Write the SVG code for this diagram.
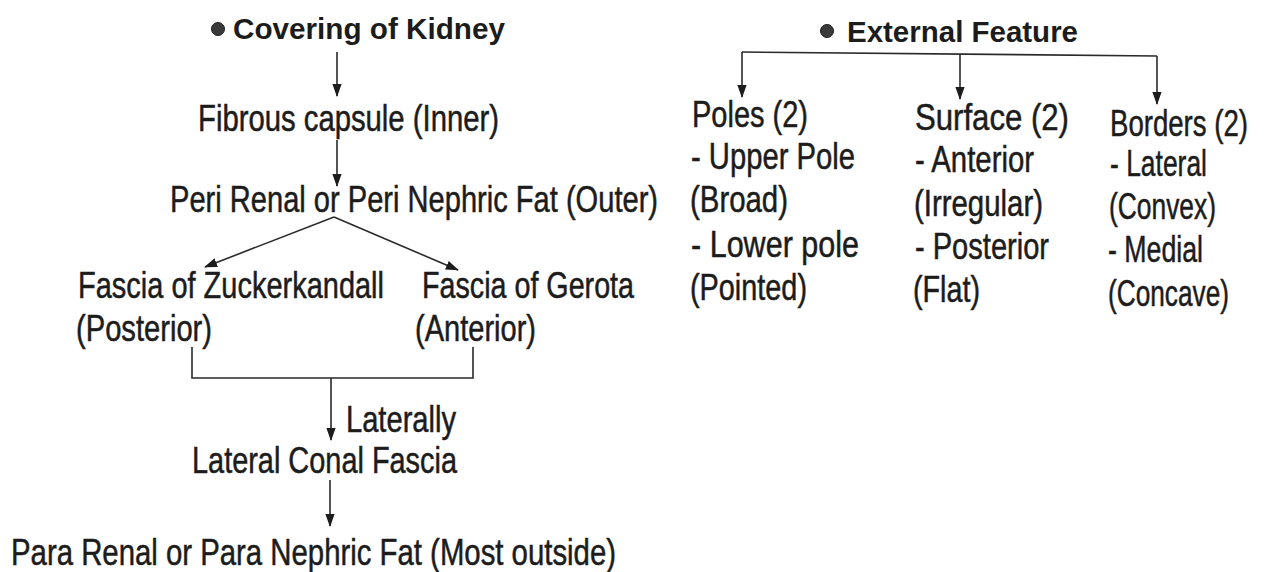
<svg xmlns="http://www.w3.org/2000/svg" width="1264" height="572" viewBox="0 0 1264 572">
<style>
.t{font-family:"Liberation Sans",Arial,sans-serif;font-size:36px;fill:#1c1c1c;stroke:#1c1c1c;stroke-width:0.5}
.h{font-family:"Liberation Sans",Arial,sans-serif;font-size:29px;font-weight:bold;fill:#1c1c1c}
.c{fill:none;stroke:#2a2a2a;stroke-width:1.6}
.a{marker-end:url(#ah)}
.b{fill:#3a3a3a;stroke:#1c1c1c;stroke-width:1}
</style>
<defs>
<marker id="ah" viewBox="0 0 14 10" refX="13" refY="5" markerWidth="13" markerHeight="10" markerUnits="userSpaceOnUse" orient="auto">
<path d="M0,0 L14,5 L0,10 z" fill="#1c1c1c"/>
</marker>
</defs>
<rect width="1264" height="572" fill="#ffffff"/>
<g id="connectors">
<path class="c a" d="M337,52 V96"/>
<path class="c a" d="M337,140 V186"/>
<path class="c a" d="M334,217 L205,267"/>
<path class="c a" d="M334,217 L458,270"/>
<path class="c" d="M192,347 V378 H473 V347"/>
<path class="c a" d="M331,378 V440"/>
<path class="c a" d="M330,480 V526"/>
<path class="c" d="M742,52 L1157,56"/>
<path class="c a" d="M742,52 V97"/>
<path class="c a" d="M960,54 V99"/>
<path class="c a" d="M1157,56 V104"/>
</g>
<g id="covering">
<circle class="b" cx="218" cy="29" r="6.5"/>
<text class="h" x="233" y="39" textLength="272" lengthAdjust="spacingAndGlyphs">Covering of Kidney</text>
</g>
<g id="fibrous"><text class="t" x="198" y="131" textLength="301" lengthAdjust="spacingAndGlyphs">Fibrous capsule (Inner)</text></g>
<g id="perirenal"><text class="t" x="170" y="212" textLength="488" lengthAdjust="spacingAndGlyphs">Peri Renal or Peri Nephric Fat (Outer)</text></g>
<g id="zuckerkandall">
<text class="t" x="78" y="298" textLength="306" lengthAdjust="spacingAndGlyphs">Fascia of Zuckerkandall</text>
<text class="t" x="76" y="341" textLength="136" lengthAdjust="spacingAndGlyphs">(Posterior)</text>
</g>
<g id="gerota">
<text class="t" x="422" y="298" textLength="212" lengthAdjust="spacingAndGlyphs">Fascia of Gerota</text>
<text class="t" x="415" y="341" textLength="121" lengthAdjust="spacingAndGlyphs">(Anterior)</text>
</g>
<g id="laterally"><text class="t" x="346" y="432" textLength="110" lengthAdjust="spacingAndGlyphs">Laterally</text></g>
<g id="lateralconal"><text class="t" x="192" y="473" textLength="265" lengthAdjust="spacingAndGlyphs">Lateral Conal Fascia</text></g>
<g id="pararenal"><text class="t" x="11" y="565" textLength="605" lengthAdjust="spacingAndGlyphs">Para Renal or Para Nephric Fat (Most outside)</text></g>
<g id="external">
<circle class="b" cx="827" cy="31" r="6.5"/>
<text class="h" x="847" y="42" textLength="231" lengthAdjust="spacingAndGlyphs">External Feature</text>
</g>
<g id="poles">
<text class="t" x="692" y="127" textLength="116" lengthAdjust="spacingAndGlyphs">Poles (2)</text>
<text class="t" x="691" y="169" textLength="164" lengthAdjust="spacingAndGlyphs">- Upper Pole</text>
<text class="t" x="690" y="212" textLength="98" lengthAdjust="spacingAndGlyphs">(Broad)</text>
<text class="t" x="691" y="257" textLength="168" lengthAdjust="spacingAndGlyphs">- Lower  pole</text>
<text class="t" x="690" y="300" textLength="117" lengthAdjust="spacingAndGlyphs">(Pointed)</text>
</g>
<g id="surface">
<text class="t" x="915" y="130" textLength="154" lengthAdjust="spacingAndGlyphs">Surface  (2)</text>
<text class="t" x="915" y="172" textLength="119" lengthAdjust="spacingAndGlyphs">- Anterior</text>
<text class="t" x="914" y="216" textLength="129" lengthAdjust="spacingAndGlyphs">(Irregular)</text>
<text class="t" x="915" y="259" textLength="134" lengthAdjust="spacingAndGlyphs">- Posterior</text>
<text class="t" x="913" y="302" textLength="67" lengthAdjust="spacingAndGlyphs">(Flat)</text>
</g>
<g id="borders">
<text class="t" x="1110" y="136" textLength="138" lengthAdjust="spacingAndGlyphs">Borders  (2)</text>
<text class="t" x="1110" y="176" textLength="97" lengthAdjust="spacingAndGlyphs">- Lateral</text>
<text class="t" x="1109" y="219" textLength="107" lengthAdjust="spacingAndGlyphs">(Convex)</text>
<text class="t" x="1108" y="262" textLength="95" lengthAdjust="spacingAndGlyphs">- Medial</text>
<text class="t" x="1108" y="306" textLength="121" lengthAdjust="spacingAndGlyphs">(Concave)</text>
</g>
</svg>
